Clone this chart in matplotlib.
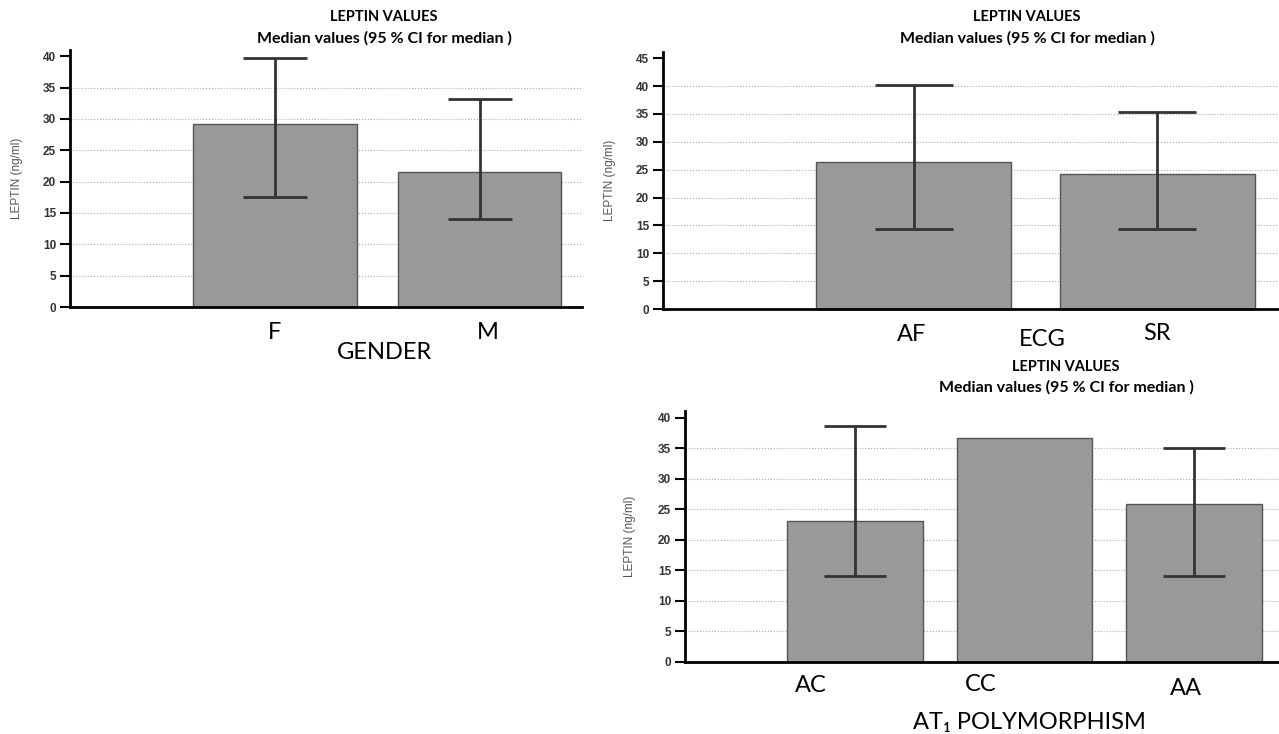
import matplotlib.pyplot as plt
import numpy as np

# panel 1 - gender
gender_cats = ['F', 'M']
gender_med = [29.2, 21.6]
gender_lo = [17.6, 14.0]
gender_hi = [39.7, 33.2]

# panel 2 - ECG
ecg_cats = ['AF', 'SR']
ecg_med = [26.3, 24.2]
ecg_lo = [14.3, 14.3]
ecg_hi = [40.2, 35.4]

# panel 3 - AT1 polymorphism (CC has no CI drawn)
at1_cats = ['AC', 'CC', 'AA']
at1_med = [23.1, 36.6, 25.9]
at1_lo = [14.0, np.nan, 14.0]
at1_hi = [38.6, np.nan, 35.1]

title_font = ['Lato', 'DejaVu Sans']
cat_font = ['Lato', 'DejaVu Sans']
tick_font = ['Liberation Sans', 'DejaVu Sans']

fig = plt.figure(figsize=(12.79, 7.34), dpi=100)


def panel(rect, cats, med, lo, hi, ymax, ytop, xlim, cap, ylab_x, lab_dx, lab_dy, xlab, xlab_pos):
    ax = fig.add_axes(rect)
    x = np.arange(1, len(cats) + 1)
    med = np.array(med)
    lo = np.array(lo)
    hi = np.array(hi)
    ax.bar(x, med, width=0.8, color='#999999', edgecolor='#555555', linewidth=1.0, zorder=2)
    ok = ~np.isnan(lo)
    ax.errorbar(x[ok], med[ok], yerr=[med[ok] - lo[ok], hi[ok] - med[ok]], fmt='none',
                ecolor='#333333', elinewidth=2, capsize=cap, capthick=2, zorder=3)
    ax.set_xlim(*xlim)
    ax.set_ylim(0, ytop)
    ax.set_yticks(np.arange(0, ymax + 1, 5))
    ax.tick_params(axis='y', direction='out', length=7, width=1.5, labelsize=8.5, labelcolor='#333333', pad=3)
    for t in ax.get_yticklabels():
        t.set_fontweight('bold')
        t.set_family(tick_font)
    ax.set_xticks([])
    ax.yaxis.grid(True, linestyle=':', color='#aaaaaa', linewidth=0.8, zorder=0)
    ax.get_ygridlines()[-1].set_visible(False)
    ax.set_axisbelow(True)
    for s in ['top', 'right']:
        ax.spines[s].set_visible(False)
    ax.spines['left'].set_linewidth(2)
    ax.spines['bottom'].set_linewidth(2)
    ax.set_ylabel('LEPTIN (ng/ml)', fontsize=8.5, color='#555555', family=tick_font)
    ax.yaxis.set_label_coords(ylab_x, 0.5)
    for i, c in enumerate(cats):
        ax.text(x[i] + lab_dx[i], -lab_dy[i], c, transform=ax.get_xaxis_transform(),
                ha='center', va='center', fontsize=17, family=cat_font)
    ax.text(xlab_pos[0], xlab_pos[1], xlab, transform=ax.transAxes, ha='center', va='center',
            fontsize=17, family=cat_font)
    return ax


ax1 = panel([0.0547, 0.5817, 0.4003, 0.3502], gender_cats, gender_med, gender_lo, gender_hi,
            40, 41.0, (0, 2.5), 23, -0.092, [0.0, 0.04], [0.10, 0.10], 'GENDER', (0.615, -0.175))
ax2 = panel([0.5184, 0.579, 0.4816, 0.350], ecg_cats, ecg_med, ecg_lo, ecg_hi,
            45, 46.1, (-0.03, 2.5), 28, -0.077, [-0.01, 0.0], [0.10, 0.095], 'ECG', (0.615, -0.117))
ax3 = panel([0.5356, 0.0981, 0.4644, 0.342], at1_cats, at1_med, at1_lo, at1_hi,
            40, 41.1, (0, 3.5), 22, -0.083, [-0.26, -0.26, -0.05], [0.095, 0.09, 0.105],
            'AT\u2081 POLYMORPHISM', (0.58, -0.24))

for cx, y1, y2 in [(384, 17, 38), (1027, 17, 38), (1066, 367, 387)]:
    fig.text(cx / 1279, 1 - y1 / 734, 'LEPTIN VALUES', ha='center', va='center', fontsize=10.5,
             fontweight='bold', family=title_font)
    fig.text(cx / 1279, 1 - y2 / 734, 'Median values (95 % CI for median )', ha='center', va='center',
             fontsize=11.5, fontweight='bold', family=title_font)

fig.savefig('out.png', dpi=100)
